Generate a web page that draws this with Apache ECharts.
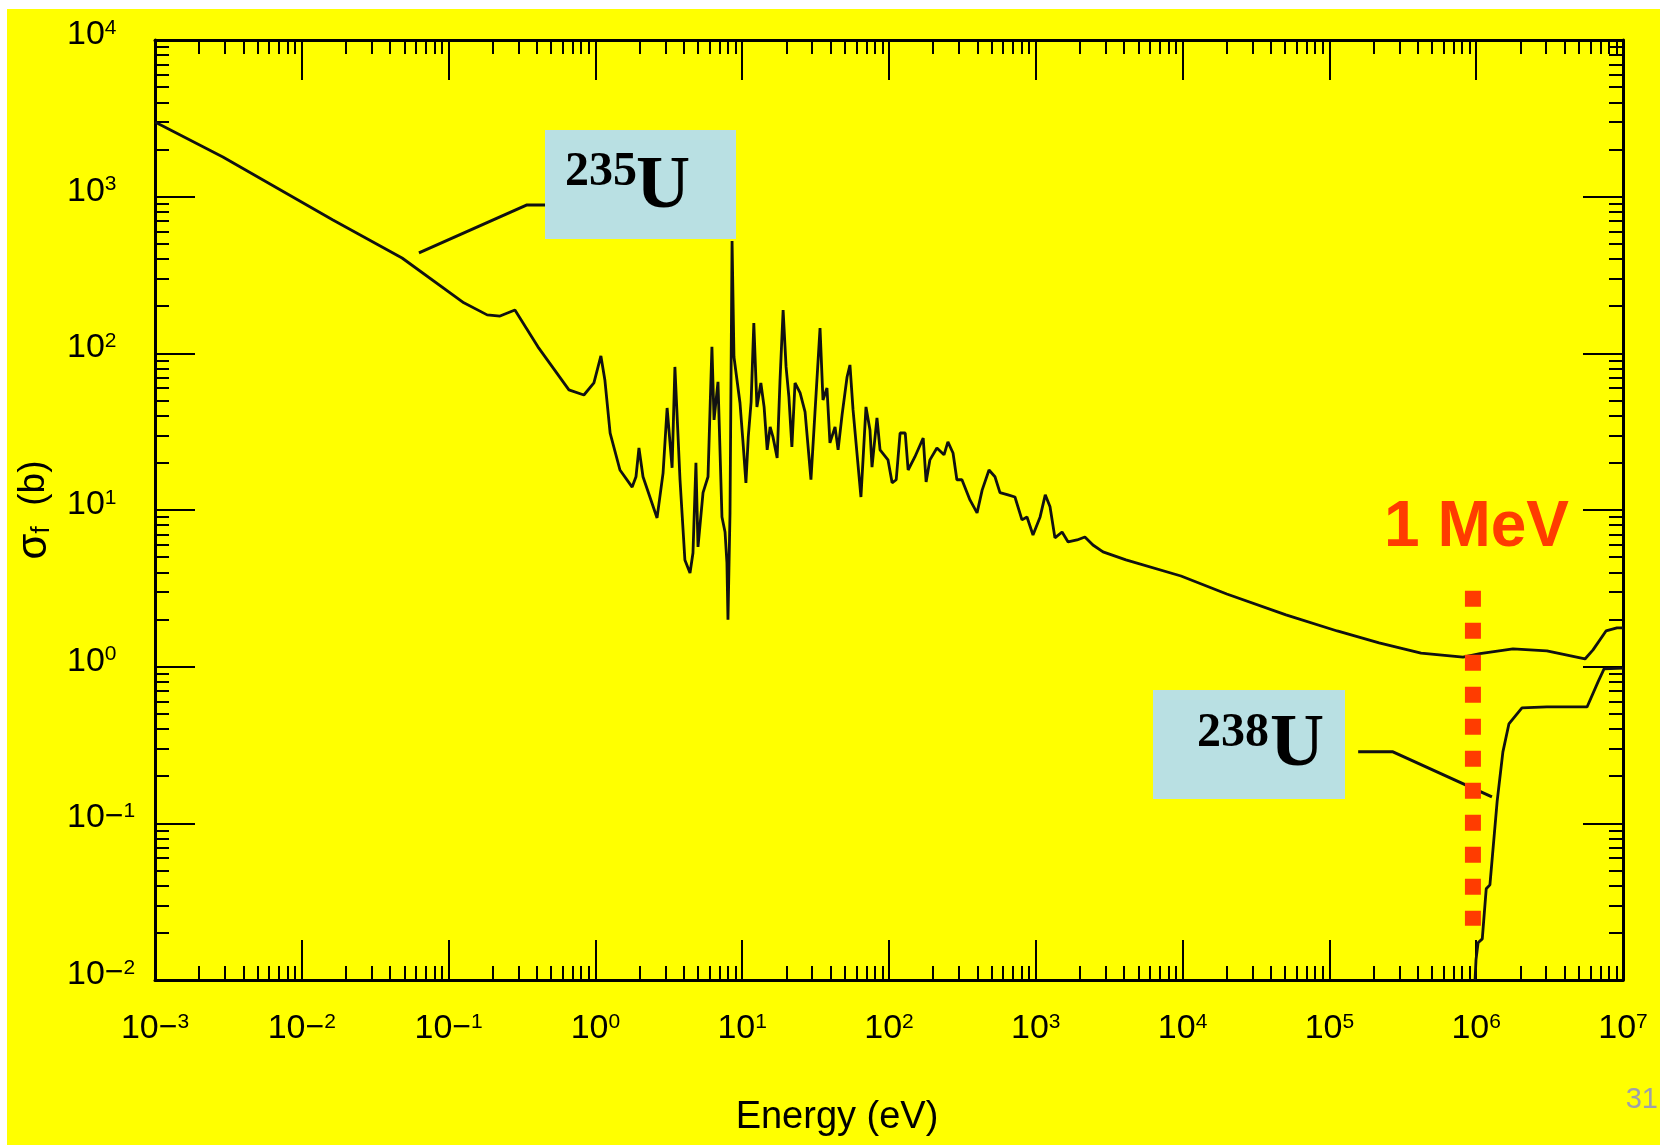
<!DOCTYPE html>
<html>
<head>
<meta charset="utf-8">
<script src="https://cdn.jsdelivr.net/npm/echarts@6/dist/echarts.min.js"></script>
<style>
html,body{margin:0;padding:0;background:#ffffff;}
#c{width:1660px;height:1145px;}
</style>
</head>
<body>
<div id="c"></div>
<script>
// ---- data (energy in eV, fission cross section in barns) ----
const energyU235 = [0.001, 0.0029, 0.0163, 0.0482, 0.127, 0.183, 0.224, 0.283, 0.406, 0.660,
  0.835, 0.977, 1.09, 1.16, 1.26, 1.47, 1.78, 1.89, 1.98, 2.11,
  2.63, 2.89, 3.08, 3.33, 3.48, 3.77, 4.07, 4.41, 4.62, 4.84,
  5.00, 5.41, 5.85, 6.22, 6.43, 6.84, 7.28, 7.64, 7.87, 8.00,
  8.26, 8.53, 8.79, 9.66, 10.1, 10.6, 11.0, 11.5, 12.0, 12.6,
  13.4, 14.1, 14.8, 15.5, 16.2, 17.3, 18.1, 19.0, 19.9, 20.8,
  21.8, 22.9, 24.8, 26.8, 29.4, 31.3, 33.9, 35.5, 37.8, 39.6,
  42.9, 45.0, 47.9, 51.8, 54.2, 56.9, 64.4, 69.7, 74.2, 76.6,
  82.8, 86.9, 98.4, 105, 112, 119, 129, 135, 150, 171,
  179, 190, 212, 237, 252, 273, 290, 314, 356, 398,
  431, 480, 527, 570, 647, 721, 805, 871, 957, 1070,
  1160, 1250, 1350, 1510, 1660, 1910, 2160, 2450, 2870, 4110,
  9750, 2.0e4, 5.06e4, 1.13e5, 2.18e5, 4.21e5, 8.13e5, 1.06e6, 1.78e6, 3.03e6,
  5.51e6, 6.25e6, 7.66e6, 9.10e6, 1e7];
const sigmaU235 = [3000, 1790, 710, 406, 210, 176, 173, 189, 110, 58.4,
  54.2, 64.7, 96.2, 67.6, 31.0, 18.0, 14.0, 16.3, 24.9, 16.3,
  8.90, 17.2, 44.8, 18.6, 81.9, 15.6, 4.80, 3.96, 5.32, 20.0,
  5.81, 12.9, 16.3, 110, 37.6, 65.7, 9.03, 7.24, 4.59, 1.99,
  9.58, 521, 94.8, 48.2, 28.0, 14.9, 29.3, 48.9, 156, 45.5,
  64.7, 45.5, 24.2, 33.9, 29.3, 21.5, 67.6, 189, 81.9, 52.7,
  25.3, 64.7, 55.9, 42.3, 15.6, 41.7, 145, 50.4, 60.1, 26.8,
  33.9, 24.2, 40.5, 70.6, 84.3, 43.5, 12.1, 45.5, 32.4, 18.8,
  38.7, 24.2, 20.9, 14.9, 15.6, 31.0, 31.0, 18.0, 21.8, 28.8,
  15.1, 20.9, 24.9, 22.5, 27.2, 23.1, 15.6, 15.6, 11.6, 9.58,
  13.4, 18.0, 16.3, 12.9, 12.5, 12.1, 8.65, 9.03, 6.93, 9.03,
  12.5, 10.5, 6.64, 7.24, 6.25, 6.44, 6.73, 5.98, 5.40, 4.80,
  3.79, 2.91, 2.14, 1.69, 1.42, 1.22, 1.15, 1.21, 1.30, 1.26,
  1.12, 1.28, 1.69, 1.77, 1.77];

const energyU238 = [9.82e5, 9.97e5, 1.03e6, 1.10e6, 1.17e6, 1.24e6, 1.39e6, 1.52e6, 1.67e6, 2.05e6, 3.03e6, 5.69e6, 6.76e6, 7.43e6, 1e7];
const sigmaU238  = [0.01, 0.0135, 0.0173, 0.0183, 0.0382, 0.0405, 0.139, 0.286, 0.431, 0.546, 0.553, 0.553, 0.80, 0.968, 0.98];

// leader lines from the isotope labels to the curves
const leaderU235E = [0.0628, 0.342, 0.454];
const leaderU235S = [437, 885, 885];
const leaderU238E = [1.57e5, 2.71e5, 1.28e6];
const leaderU238S = [0.286, 0.286, 0.1476];

// the "1 MeV" marker line
const meVLineE = [9.5e5, 9.5e5];
const meVLineS = [3.05, 0.0222];

// tick labels (exponents of 10)
const xTickExponents = ['\u22123', '\u22122', '\u22121', '0', '1', '2', '3', '4', '5', '6', '7'];
const yTickExponents = ['\u22122', '\u22121', '0', '1', '2', '3', '4'];
const X_MIN = 1e-3, X_MAX = 1e7, Y_MIN = 1e-2, Y_MAX = 1e4;

// ---- chart ----
const zip = (a, b) => a.map((v, i) => [v, b[i]]);
const SANS = '"Liberation Sans", Arial, Helvetica, sans-serif';
const SERIF = '"Liberation Serif", "Times New Roman", serif';
const RED = '#FF3C00';
const BOX = '#B9E0E3';

const tickRich = {
  b: { fontSize: 34, fontFamily: SANS, color: '#000', lineHeight: 34 },
  m: { fontSize: 32, fontFamily: SANS, color: '#000', lineHeight: 20, verticalAlign: 'top' },
  s: { fontSize: 21, fontFamily: SANS, color: '#000', lineHeight: 28, verticalAlign: 'top' }
};
function tickText(exp) {
  if (exp.charAt(0) === '\u2212') {
    return '{b|10}{m|\u2212}{s|' + exp.slice(1) + '}';
  }
  return '{b|10}{s|' + exp + '}';
}

function baseAxis(extra) {
  return Object.assign({
    type: 'log',
    logBase: 10,
    interval: 1,
    axisLine: { show: true, onZero: false, lineStyle: { color: '#000', width: 3 } },
    axisTick: { show: true, inside: true, length: 40, lineStyle: { color: '#000', width: 2 } },
    minorTick: { show: true, splitNumber: 9, length: 14, lineStyle: { color: '#000', width: 2 } },
    splitLine: { show: false },
    minorSplitLine: { show: false }
  }, extra);
}

const option = {
  backgroundColor: '#ffffff',
  animation: false,
  grid: { left: 155, right: 37, top: 40, bottom: 165, containLabel: false },
  xAxis: [
    baseAxis({
      min: X_MIN, max: X_MAX, position: 'bottom',
      name: 'Energy (eV)',
      nameLocation: 'middle',
      nameGap: 119,
      nameTextStyle: { fontSize: 38, fontFamily: SANS, color: '#000', padding: [0, 104, 0, 0] },
      axisLabel: {
        show: true, margin: 32,
        formatter: v => tickText(xTickExponents[Math.round(Math.log10(v)) + 3]),
        rich: tickRich
      }
    }),
    baseAxis({ min: X_MIN, max: X_MAX, position: 'top', axisLabel: { show: false } })
  ],
  yAxis: [
    baseAxis({
      min: Y_MIN, max: Y_MAX, position: 'left',
      name: '{s|\u03c3}{f|f}{p|  (b)}',
      nameLocation: 'middle',
      nameRotate: 90,
      nameGap: 100,
      nameTextStyle: {
        color: '#000',
        rich: {
          s: { fontSize: 42, fontFamily: SANS, color: '#000', lineHeight: 42 },
          f: { fontSize: 26, fontFamily: SANS, color: '#000', lineHeight: 22, verticalAlign: 'bottom' },
          p: { fontSize: 37, fontFamily: SANS, color: '#000', lineHeight: 42 }
        }
      },
      axisLabel: {
        show: true, margin: 88, align: 'left',
        padding: [0, 0, 11, 0],
        formatter: v => tickText(yTickExponents[Math.round(Math.log10(v)) + 2]),
        rich: tickRich
      }
    }),
    baseAxis({ min: Y_MIN, max: Y_MAX, position: 'right', axisLabel: { show: false } })
  ],
  series: [
    {
      name: '235U', type: 'line', xAxisIndex: 0, yAxisIndex: 0,
      data: zip(energyU235, sigmaU235),
      showSymbol: false, symbol: 'none', smooth: false,
      lineStyle: { color: '#111', width: 2.8 }, z: 3
    },
    {
      name: '238U', type: 'line', xAxisIndex: 0, yAxisIndex: 0,
      data: zip(energyU238, sigmaU238),
      showSymbol: false, symbol: 'none', smooth: false,
      lineStyle: { color: '#111', width: 2.8 }, z: 3
    },
    {
      name: 'leader235', type: 'line', xAxisIndex: 0, yAxisIndex: 0,
      data: zip(leaderU235E, leaderU235S),
      showSymbol: false, symbol: 'none',
      lineStyle: { color: '#111', width: 3 }, z: 3
    },
    {
      name: 'leader238', type: 'line', xAxisIndex: 0, yAxisIndex: 0,
      data: zip(leaderU238E, leaderU238S),
      showSymbol: false, symbol: 'none',
      lineStyle: { color: '#111', width: 3 }, z: 3
    },
    {
      name: '1MeV', type: 'line', xAxisIndex: 0, yAxisIndex: 0,
      data: zip(meVLineE, meVLineS),
      showSymbol: false, symbol: 'none',
      lineStyle: { color: RED, width: 16, type: [16, 16], cap: 'butt' }, z: 10
    }
  ],
  graphic: {
    elements: [
      { type: 'rect', z: -100, silent: true, shape: { x: 7, y: 9, width: 1653, height: 1136 }, style: { fill: '#FFFF00' } },
      { type: 'rect', z: 20, silent: true, shape: { x: 545, y: 130, width: 191, height: 109 }, style: { fill: BOX } },
      { type: 'text', z: 21, silent: true, style: { x: 565, y: 173, text: '235', fontSize: 48, fontWeight: 'bold', fontFamily: SERIF, fill: '#000', textAlign: 'left', textVerticalAlign: 'middle', verticalAlign: 'middle' } },
      { type: 'text', z: 21, silent: true, style: { x: 636, y: 188, text: 'U', fontSize: 75, fontWeight: 'bold', fontFamily: SERIF, fill: '#000', textAlign: 'left', textVerticalAlign: 'middle', verticalAlign: 'middle' } },
      { type: 'rect', z: 20, silent: true, shape: { x: 1153, y: 690, width: 192, height: 109 }, style: { fill: BOX } },
      { type: 'text', z: 21, silent: true, style: { x: 1197, y: 734, text: '238', fontSize: 48, fontWeight: 'bold', fontFamily: SERIF, fill: '#000', textAlign: 'left', textVerticalAlign: 'middle', verticalAlign: 'middle' } },
      { type: 'text', z: 21, silent: true, style: { x: 1270, y: 746, text: 'U', fontSize: 75, fontWeight: 'bold', fontFamily: SERIF, fill: '#000', textAlign: 'left', textVerticalAlign: 'middle', verticalAlign: 'middle' } },
      { type: 'text', z: 21, silent: true, style: { x: 1384, y: 528, text: '1 MeV', fontSize: 64, fontWeight: 'bold', fontFamily: SANS, fill: RED, textAlign: 'left', textVerticalAlign: 'middle', verticalAlign: 'middle' } },
      { type: 'text', z: 21, silent: true, style: { x: 1658, y: 1100, text: '31', fontSize: 29, fontFamily: SANS, fill: '#9EA0AA', textAlign: 'right', textVerticalAlign: 'middle', verticalAlign: 'middle' } }
    ]
  }
};

const chart = echarts.init(document.getElementById('c'), null, { renderer: 'canvas', width: 1660, height: 1145 });
chart.setOption(option);
</script>
</body>
</html>
